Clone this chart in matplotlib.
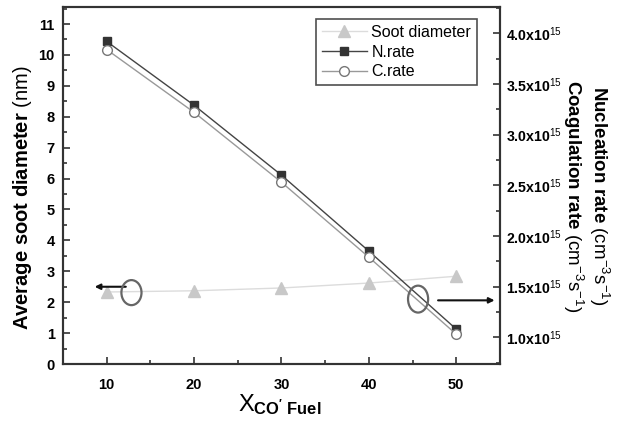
import matplotlib
matplotlib.use('Agg')
import matplotlib.pyplot as plt
from matplotlib.patches import Ellipse
from matplotlib.ticker import MultipleLocator, FuncFormatter

plt.rcParams['font.family'] = ['Liberation Sans', 'DejaVu Sans']
plt.rcParams['mathtext.fontset'] = 'custom'
plt.rcParams['mathtext.rm'] = 'Liberation Sans'
plt.rcParams['mathtext.bf'] = 'Liberation Sans:bold'
plt.rcParams['mathtext.it'] = 'Liberation Sans:italic'

# CO2 fraction in fuel (%)
x_co = [10, 20, 30, 40, 50]
# average soot diameter (nm)
soot_diam = [2.33, 2.37, 2.46, 2.62, 2.84]
# nucleation and coagulation rates (1e15 cm^-3 s^-1)
n_rate = [3.92, 3.29, 2.60, 1.85, 1.08]
c_rate = [3.84, 3.22, 2.53, 1.79, 1.03]

fig = plt.figure(figsize=(6.18, 4.26), dpi=100)
ax = fig.add_axes([0.102, 0.1455, 0.707, 0.838])
ax2 = ax.twinx()

l1, = ax.plot(x_co, soot_diam, color='#dcdcdc', lw=1, marker='^', ms=8,
              mfc='#c8c8c8', mec='#c8c8c8', label='Soot diameter')
l2, = ax2.plot(x_co, n_rate, color='#444444', lw=1, marker='s', ms=6,
               mfc='#333333', mec='#333333', label='N.rate')
l3, = ax2.plot(x_co, c_rate, color='#999999', lw=1, marker='o', ms=7,
               mfc='white', mec='#777777', label='C.rate')

ax.set_xlim(5, 55)
ax.set_ylim(0, 11.55)
ax2.set_ylim(0.736, 4.26)

ax.xaxis.set_major_locator(MultipleLocator(10))
ax.xaxis.set_minor_locator(MultipleLocator(5))
ax.yaxis.set_major_locator(MultipleLocator(1))
ax.yaxis.set_minor_locator(MultipleLocator(0.5))
ax2.yaxis.set_major_locator(MultipleLocator(0.5))
ax2.yaxis.set_minor_locator(MultipleLocator(0.25))
ax2.yaxis.set_major_formatter(FuncFormatter(lambda v, p: '%.1fx10$^{15}$' % v))

for a in (ax, ax2):
    for s in a.spines.values():
        s.set_linewidth(1.5)
        s.set_color('#333333')
ax.tick_params(which='both', direction='in', top=False, right=False,
               labelsize=10.5, color='#333333', width=1.2)
ax.tick_params(which='major', length=5)
ax.tick_params(which='minor', length=3)
ax.tick_params(axis='x', pad=10)
ax.tick_params(axis='y', pad=6)
ax2.tick_params(which='both', direction='in', labelsize=10.2, color='#333333', width=1.2, pad=4)
ax2.tick_params(which='major', length=5)
ax2.tick_params(which='minor', length=3)
for lab in ax.get_xticklabels() + ax.get_yticklabels() + ax2.get_yticklabels():
    lab.set_fontweight('bold')

leg = ax2.legend(handles=[l1, l2, l3], loc='upper right', bbox_to_anchor=(0.947, 0.966),
                 fontsize=11.5, frameon=True, fancybox=False, handlelength=2.8,
                 handletextpad=0.3, borderpad=0.35, labelspacing=0.3, borderaxespad=0)
leg.get_frame().set_edgecolor('#222222')
leg.get_frame().set_linewidth(1.2)

# circles and arrows pointing to the matching axis
ax2.add_patch(Ellipse((12.83, 2.31), 2.3, 0.81, transform=ax.transData,
                      fill=False, ec='#666666', lw=1.6, zorder=5))
ax2.add_patch(Ellipse((45.63, 2.10), 2.3, 0.87, transform=ax.transData,
                      fill=False, ec='#666666', lw=1.6, zorder=5))
ax.annotate('', xy=(8.3, 2.5), xytext=(12.5, 2.5),
            arrowprops=dict(arrowstyle='-|>', color='#111111', lw=1.5, mutation_scale=8))
ax.annotate('', xy=(54.7, 2.06), xytext=(47.6, 2.06),
            arrowprops=dict(arrowstyle='-|>', color='#111111', lw=1.5, mutation_scale=8),
            annotation_clip=False)

fig.text(0.036, 0.535, r'$\mathbf{Average\ soot\ diameter}$ (nm)', rotation=90,
         fontsize=14.5, ha='center', va='center')
fig.text(0.969, 0.54, r'$\mathbf{Nucleation\ rate}$ (cm$^{-3}$s$^{-1}$)', rotation=270,
         fontsize=13.5, ha='center', va='center')
fig.text(0.927, 0.54, r'$\mathbf{Coagulation\ rate}$ (cm$^{-3}$s$^{-1}$)', rotation=270,
         fontsize=13.5, ha='center', va='center')
fig.text(0.453, 0.035, r'X$_{\mathbf{CO^{\prime}\ Fuel}}$', fontsize=17,
         ha='center', va='baseline')

fig.savefig('out.png', dpi=100)
